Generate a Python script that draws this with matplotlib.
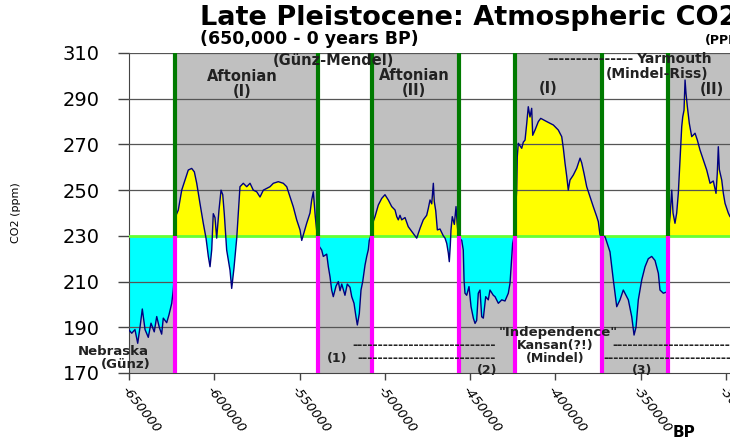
import numpy as np
import matplotlib
matplotlib.use('Agg')
import matplotlib.pyplot as plt

# CO2 record (years BP, ppm)
years = [-650000, -648400, -646500, -644900, -643550, -642200, -640600, -638700,
         -637100, -635200, -633750, -632250, -630850, -629900, -627900, -626550,
         -624950, -624050, -623450, -623050, -622750, -621100, -619100, -617200,
         -615250, -613250, -611700, -610300, -608400, -606450, -604850, -603500,
         -602500, -601500, -600600, -599600, -598600, -597250, -596050, -595050,
         -594150, -592750, -590800, -589800, -588450, -586850, -584950, -583000,
         -581000, -579050, -577150, -575150, -573200, -571250, -567350, -565400,
         -562500, -559550, -557550, -555600, -553700, -551700, -549750, -548750,
         -545850, -543900, -542900, -541950, -541400, -540800, -539800,
         -539050, -537050, -536100, -534100, -533150, -532150, -531200, -530250,
         -528650, -527300, -526300, -525300, -523400, -522050, -520450, -519450,
         -518100, -516950, -516150, -515000, -514000, -513000, -511650, -510650,
         -509700, -509150, -508450,
         -506950, -505800, -503850, -501850, -499950, -498000, -496000, -494050,
         -493050, -492150, -491150, -490150, -488200, -486300, -483350, -481350,
         -479400, -477500, -475500, -474550, -473550, -472550, -471600, -471050,
         -470200, -469250, -467700, -465750, -464750, -463750, -462800, -462250,
         -461650, -461250, -460500, -459300, -458300, -457700, -457150,
         -456250, -454950, -454050, -453600, -453050, -452050, -450700, -449500,
         -448150, -447150, -446200, -445250, -444250, -443250, -442300, -440900,
         -439400, -438400, -436450, -435450, -433500, -431500, -429600, -427650,
         -426650, -425650, -425100, -424300,
         -422750, -422400, -421800, -419800, -418850, -417850, -416850, -415950,
         -414950, -413950, -413350, -412000, -410050, -408650, -405150, -401250,
         -398350, -396350, -395400, -394400, -393400, -392500, -391500, -389550,
         -387550, -385600, -384650, -383300, -381700, -379750, -377850, -375850,
         -374900, -373900,
         -370950, -369050, -368050, -366100, -364100, -362200, -360250, -357300,
         -355300, -353950, -352800, -351450, -349450, -347500, -345600, -343600,
         -341650, -339700, -338750, -336800, -334600,
         -333750, -332850, -331850, -331100, -329950, -328950, -328000, -327000,
         -326000, -325400, -324650, -324050, -323500, -322700, -321550, -320150,
         -318200, -316850, -315300, -313350, -311350, -309400, -307500, -305900,
         -305150, -304550, -303950, -302550, -301600, -300600, -298700, -297700,
         -293000]
co2 = [188.8, 187.4, 189, 183, 190, 198, 189, 185.6,
       191.8, 188, 194.7, 190, 187, 194, 192, 195.5,
       200.5, 206.3, 212, 225, 238.4, 241.3, 250, 254.4,
       258.8, 259.5, 258, 253, 244.2, 235.5, 229, 221,
       216.5, 224, 239.7, 238, 229, 241.3, 250, 248,
       239.7, 223.8, 215, 207, 216, 229, 251.5, 253,
       251.5, 253, 250, 249.3, 247, 250, 251.5, 253,
       253.7, 253, 251.5, 247, 242.7, 237, 232.6, 228,
       235.5, 240, 245.7, 249.3, 244, 238.4, 231,
       226, 223.8, 221, 222, 216.5, 212, 206.3, 203.4,
       208, 210, 206, 208.9, 204, 208.9, 207.5, 203.4,
       200.5, 194.6, 191, 196, 206.3, 210, 217.2, 221,
       224, 228, 229.5,
       236, 238.4, 243.5, 246.4, 248, 245.7, 242.8, 241.3,
       238.4, 237, 239, 237, 238, 234, 231, 229,
       233.3, 237, 239, 242, 245.7, 244, 253, 245,
       241, 232.6, 233, 230, 229, 226.7, 222.4, 218.7,
       226, 232.6, 238.4, 235, 242.8, 236, 231,
       229, 228, 223.8, 210.7, 204.9, 204, 207.8, 199,
       194, 191.7, 193, 204.9, 206.3, 194.6, 194, 203.4,
       202, 206.3, 204, 203.4, 200.5, 202, 201.5, 204.9,
       209.3, 221, 226.7, 229.5,
       250, 264.6, 270.5, 268.3, 271, 271.9, 279.2, 286.5,
       282, 285.8, 274, 276.3, 280, 281.4, 280, 278.5,
       276.3, 273.4, 268.3, 261.7, 256, 250, 254.4, 256.6,
       259.6, 264, 262, 257.4, 251.5, 247.1, 242.8, 238.5,
       236.2, 230.4,
       229.6, 225.3, 223, 210.7, 199, 202, 206.3, 202,
       194.6, 186.6, 190, 202, 210.7, 216.5, 220, 221,
       219.2, 213.6, 206.3, 204.9, 205.5,
       232, 238.4, 250, 240, 235.5, 240, 248.6, 263.2,
       277.8, 282.1, 285, 298.2, 292.4, 286.5, 279.2, 273.4,
       274.9, 271.9, 267.6, 263.2, 258.8, 253, 254, 248.6,
       257.4, 269, 259, 254.4, 248.6, 244.2, 240, 238.4,
       236]

# period boundaries (start of interglacial / glacial)
bounds = [-623050, -539200, -507550, -456850, -423750, -372750, -334300]
xmin, xmax = -650000, -280000
base = 230

x = np.array(years)
y = np.array(co2)

fig = plt.figure(figsize=(7.3, 4.41), dpi=100)
ax = fig.add_axes([129/730, 68/441, 631.2/730, 320/441])
ax.set_xlim(xmin, xmax)
ax.set_ylim(170, 310)

# grey shading: interglacials above the line, glacials below it
edges = [xmin] + bounds + [xmax]
for i in range(len(edges) - 1):
    if i % 2 == 0:
        ax.fill_between([edges[i], edges[i+1]], 170, base, color='#c0c0c0', lw=0, zorder=1)
    else:
        ax.fill_between([edges[i], edges[i+1]], base, 310, color='#c0c0c0', lw=0, zorder=1)

ax.fill_between(x, y, base, where=y >= base, interpolate=True, color='#ffff00', lw=0, zorder=2)
ax.fill_between(x, y, base, where=y <= base, interpolate=True, color='#00ffff', lw=0, zorder=2)

for g in [190, 210, 250, 270, 290, 310]:
    ax.axhline(g, color='#555555', lw=0.9, zorder=3)
ax.axhline(base, color='#66ff33', lw=2, zorder=3)

ax.plot(x, y, color='#000080', lw=1, zorder=4)

ax.vlines(bounds, base, 310, color='#007a00', lw=3, zorder=5)
ax.vlines(bounds, 170, base, color='#ff00ff', lw=3, zorder=5)

for s in ['top', 'right']:
    ax.spines[s].set_visible(False)
ax.spines['left'].set_color('#444444')
ax.spines['bottom'].set_color('#444444')

ax.set_yticks(np.arange(170, 311, 20))
ax.tick_params(axis='y', length=8, width=1, color='#444444', pad=13, labelsize=14)
ticks = np.arange(-650000, -299999, 50000)
ax.set_xticks(ticks)
ax.set_xticklabels([str(int(t)) for t in ticks], rotation=-52, ha='left', va='top',
                   rotation_mode='anchor', fontstyle='italic', fontsize=9.5)
ax.tick_params(axis='x', length=5, width=1, color='#444444', pad=3)
ax.set_ylabel('CO2 (ppm)', fontsize=8, labelpad=30)

# titles
fig.text(200/730, 1 - 25/441, 'Late Pleistocene: Atmospheric CO2', fontsize=19.5,
         fontweight='bold', ha='left', va='baseline')
fig.text(200/730, 1 - 44/441, '(650,000 - 0 years BP)', fontsize=12.5,
         fontweight='bold', ha='left', va='baseline')
fig.text(705/730, 1 - 44/441, '(PPMV)', fontsize=9, fontweight='bold',
         ha='left', va='baseline')
fig.text(684/730, 1 - 437/441, 'BP', fontsize=11, fontweight='bold', ha='center',
         va='baseline')

def px(xp, yp):
    return xmin + (xp - 129) * 586.2, 310 - (yp - 53) / 2.2857

dash = '-'
labels = [
    (333, 60, '(Günz-Mendel)', 'center', 10.5),
    (242, 84, 'Aftonian\n(I)', 'center', 10.5),
    (414, 83, 'Aftonian\n(II)', 'center', 10.5),
    (548, 88, '(I)', 'center', 10.5),
    (547, 59, dash * 15, 'left', 10),
    (636, 59, 'Yarmouth', 'left', 10),
    (657, 74, '(Mindel-Riss)', 'center', 10),
    (712, 89, '(II)', 'center', 10.5),
    (558, 332, '"Independence"', 'center', 9.5),
    (352, 345, dash * 28, 'left', 9),
    (555, 345, 'Kansan(?!)', 'center', 9),
    (612, 345, dash * 26, 'left', 9),
    (337, 358, '(1)', 'center', 9),
    (357, 358, dash * 27, 'left', 9),
    (555, 358, '(Mindel)', 'center', 9),
    (603, 358, dash * 26, 'left', 9),
    (487, 370, '(2)', 'center', 9),
    (642, 370, '(3)', 'center', 9),
    (113, 351, 'Nebraska', 'center', 9.5),
    (126, 364, '(Günz)', 'center', 9.5),
]
for xp, yp, t, ha, fs in labels:
    xd, yd = px(xp, yp)
    ax.text(xd, yd, t, ha=ha, va='center', fontsize=fs, fontweight='bold',
            color='#222222', zorder=6, clip_on=False, linespacing=0.95,
            multialignment='center')

fig.savefig('out.png', dpi=100)
